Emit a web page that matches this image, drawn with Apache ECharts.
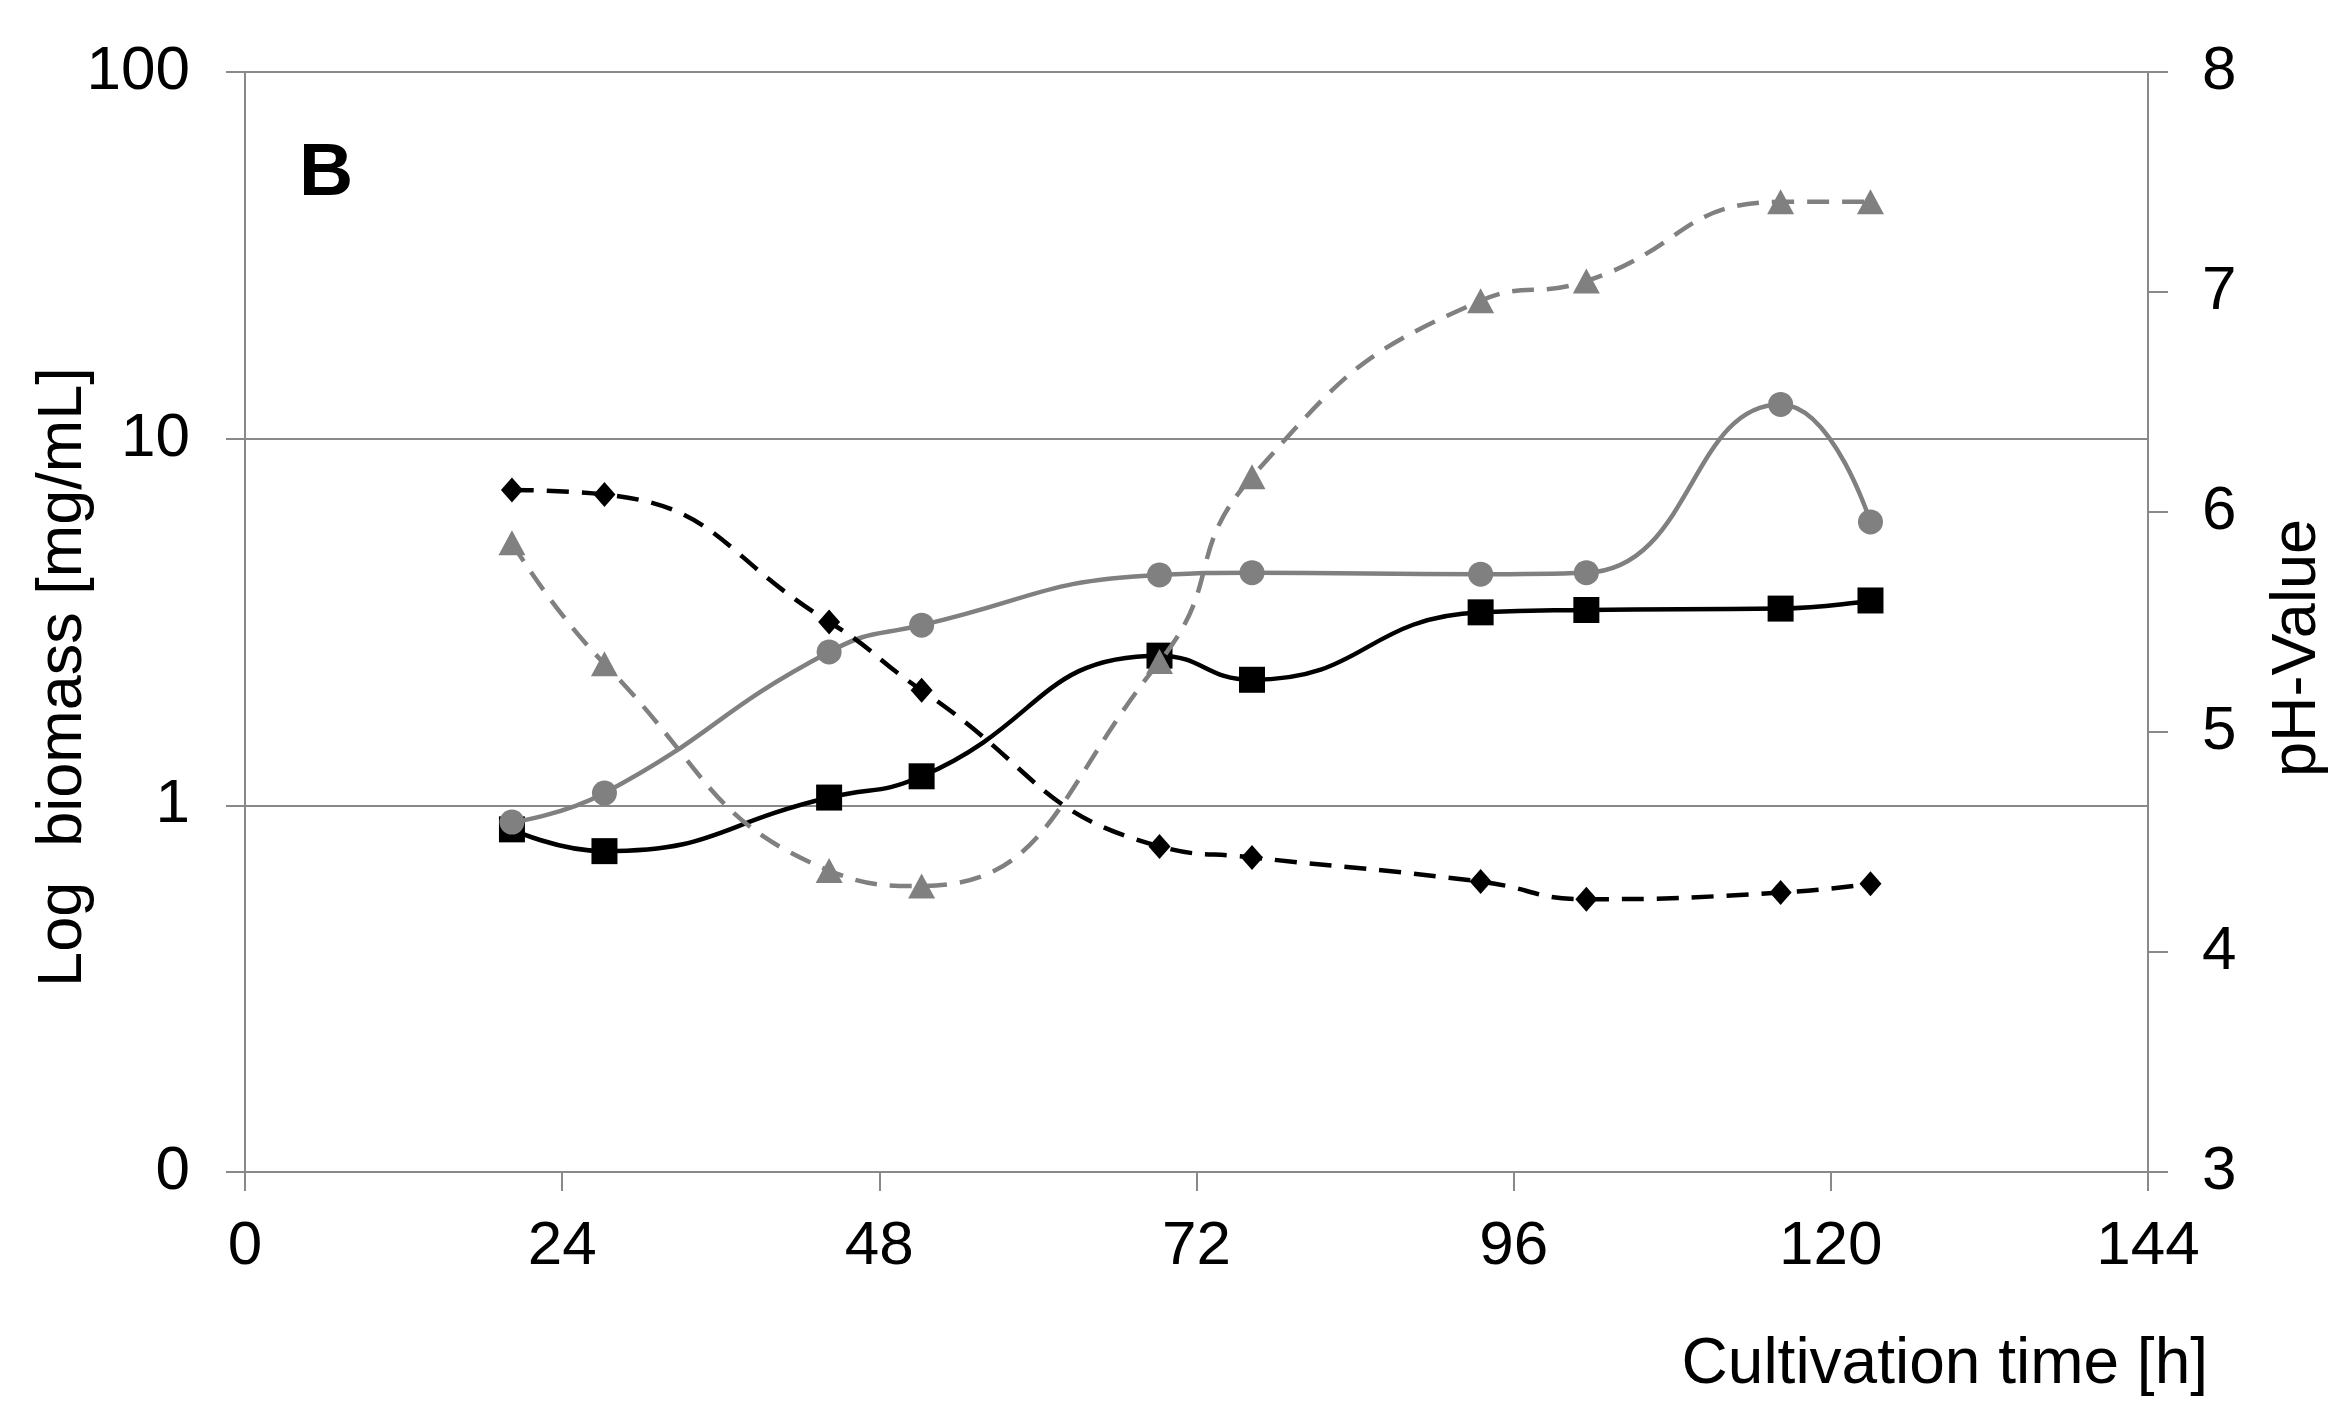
<!DOCTYPE html>
<html>
<head>
<meta charset="utf-8">
<script src="https://cdn.jsdelivr.net/npm/echarts@6/dist/echarts.min.js"></script>
<style>
html,body{margin:0;padding:0;background:#fff;}
#c{width:2330px;height:1407px;}
</style>
</head>
<body>
<div id="c"></div>
<script>
// ---- data ----
const times = [20.2, 27.2, 44.2, 51.2, 69.2, 76.2, 93.5, 101.5, 116.2, 123.0];
const biomassSquares = [0.86, 0.75, 1.05, 1.20, 2.56, 2.20, 3.36, 3.41, 3.44, 3.62];
const biomassCircles = [0.90, 1.08, 2.62, 3.10, 4.25, 4.31, 4.27, 4.31, 12.4, 5.93];
const phTriangles = [5.86, 5.31, 4.37, 4.30, 5.32, 6.16, 6.96, 7.05, 7.41, 7.41];
const phDiamonds = [6.10, 6.08, 5.50, 5.19, 4.48, 4.43, 4.32, 4.24, 4.27, 4.31];
const xTicks = [0, 24, 48, 72, 96, 120, 144];
const phTicks = [3, 4, 5, 6, 7, 8];

const FONT = '"Liberation Sans", Arial, sans-serif';
const AXIS = '#898989';
const GRAY = '#808080';

function pairs(ys) { return times.map((t, i) => [t, ys[i]]); }

const chart = echarts.init(document.getElementById('c'), null, {renderer: 'canvas'});
chart.setOption({
  animation: false,
  backgroundColor: '#fff',
  grid: {left: 245, right: 182, top: 72, bottom: 235, containLabel: false},
  xAxis: {
    type: 'value', min: xTicks[0], max: xTicks[xTicks.length - 1], interval: 24,
    axisLine: {show: true, lineStyle: {color: AXIS, width: 2}},
    axisTick: {show: true, inside: false, length: 19, lineStyle: {color: AXIS, width: 2}},
    axisLabel: {margin: 44, fontSize: 62, fontFamily: FONT, color: '#000'},
    splitLine: {show: false}
  },
  yAxis: [{
    type: 'log', logBase: 10, min: 0.1, max: 100,
    axisLine: {show: true, lineStyle: {color: AXIS, width: 2}},
    axisTick: {show: true, inside: false, length: 19, lineStyle: {color: AXIS, width: 2}},
    axisLabel: {margin: 55, fontSize: 62, fontFamily: FONT, color: '#000',
      formatter: v => (v < 0.5 ? '0' : String(Math.round(v)))},
    splitLine: {show: true, lineStyle: {color: AXIS, width: 2}}
  }, {
    type: 'value', position: 'right', min: phTicks[0], max: phTicks[phTicks.length - 1], interval: 1,
    axisLine: {show: true, lineStyle: {color: AXIS, width: 2}},
    axisTick: {show: true, inside: false, length: 20, lineStyle: {color: AXIS, width: 2}},
    axisLabel: {margin: 54, fontSize: 62, fontFamily: FONT, color: '#000'},
    splitLine: {show: false}
  }],
  series: [{
    name: 'Biomass (squares)', type: 'line', yAxisIndex: 0, smooth: 0.5,
    data: pairs(biomassSquares),
    symbol: 'rect', symbolSize: 26,
    lineStyle: {color: '#000', width: 4.5},
    itemStyle: {color: '#000'}, z: 2
  }, {
    name: 'Biomass (circles)', type: 'line', yAxisIndex: 0, smooth: 0.5,
    data: pairs(biomassCircles),
    symbol: 'circle', symbolSize: 25,
    lineStyle: {color: GRAY, width: 4.5},
    itemStyle: {color: GRAY}, z: 3
  }, {
    name: 'pH (diamonds)', type: 'line', yAxisIndex: 1, smooth: 0.5,
    data: pairs(phDiamonds),
    symbol: 'diamond', symbolSize: [22, 25],
    lineStyle: {color: '#000', width: 4.5, type: [22, 13]},
    itemStyle: {color: '#000'}, z: 4
  }, {
    name: 'pH (triangles)', type: 'line', yAxisIndex: 1, smooth: 0.5,
    data: pairs(phTriangles),
    symbol: 'triangle', symbolSize: [27, 25],
    lineStyle: {color: GRAY, width: 4.5, type: [22, 13]},
    itemStyle: {color: GRAY}, z: 5
  }],
  graphic: [{
    type: 'text', x: 299, y: 174,
    style: {text: 'B', fontSize: 75, fontWeight: 'bold', fontFamily: FONT, fill: '#000',
      align: 'left', verticalAlign: 'middle'}
  }, {
    type: 'text', x: 64, y: 677, rotation: Math.PI / 2,
    style: {text: 'Log  biomass [mg/mL]', fontSize: 63, fontFamily: FONT, fill: '#000',
      align: 'center', verticalAlign: 'middle'}
  }, {
    type: 'text', x: 2298, y: 648, rotation: Math.PI / 2,
    style: {text: 'pH-Value', fontSize: 63, fontFamily: FONT, fill: '#000',
      align: 'center', verticalAlign: 'middle'}
  }, {
    type: 'text', x: 2208, y: 1365,
    style: {text: 'Cultivation time [h]', fontSize: 64, fontFamily: FONT, fill: '#000',
      align: 'right', verticalAlign: 'middle'}
  }]
});
</script>
</body>
</html>
